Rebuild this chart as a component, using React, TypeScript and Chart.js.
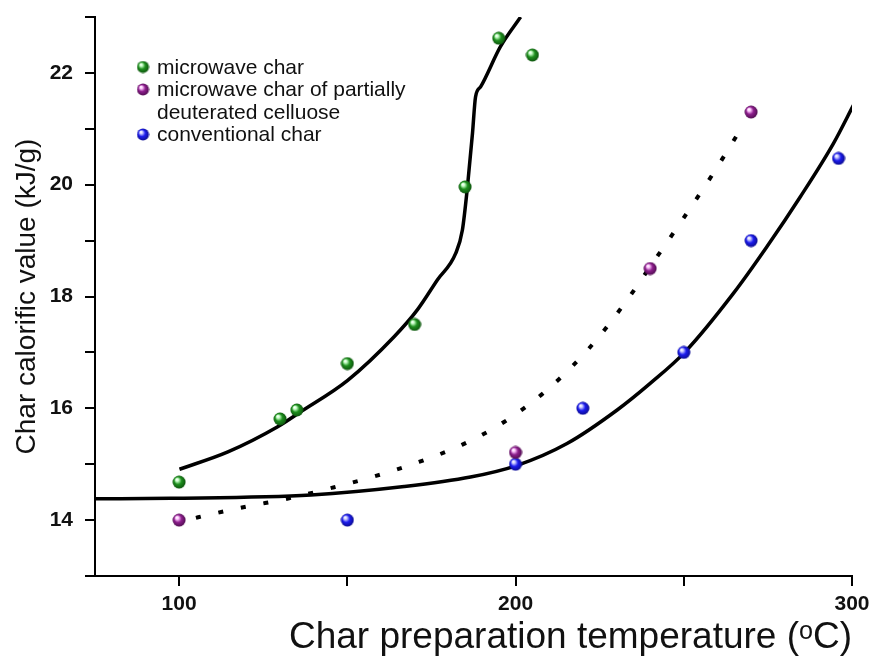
import { useEffect, useRef } from 'react';
import { Chart, registerables } from 'chart.js';

Chart.register(...registerables);

// Measured points
const microwaveX = [100, 130, 135, 150, 170, 185, 195, 205];
const microwaveY = [14.68, 15.81, 15.97, 16.8, 17.5, 19.96, 22.62, 22.32];
const deuteratedX = [100, 200, 240, 270];
const deuteratedY = [14.0, 15.21, 18.5, 21.3];
const conventionalX = [150, 200, 220, 250, 270, 296];
const conventionalY = [14.0, 15.0, 16.0, 17.0, 19.0, 20.47];

// Fitted curves
const microwaveFitX = [100.1, 114.5, 129.3, 136.2, 150.1, 163.9, 170.8, 176.8, 182.2, 184.2, 185.7, 187.2, 188.1, 189.6, 195.5, 201.5];
const microwaveFitY = [14.91, 15.22, 15.67, 15.94, 16.5, 17.28, 17.76, 18.3, 18.77, 19.19, 19.96, 20.92, 21.57, 21.75, 22.47, 23.0];
const deuteratedFitX = [105, 107.0, 119.9, 132.7, 145.6, 158.5, 171.3, 184.2, 196.7, 209.4, 221.8, 232.1, 241.0, 249.9, 258.4, 267.5];
const deuteratedFitY = [14.04, 14.07, 14.24, 14.39, 14.58, 14.79, 15.04, 15.35, 15.76, 16.33, 17.07, 17.85, 18.62, 19.4, 20.17, 21.05];
const conventionalFitX = [75, 97.6, 139.2, 166.9, 186.6, 200.5, 215.3, 230.2, 240.1, 250.4, 264.8, 274.7, 284.6, 294.5, 300.4];
const conventionalFitY = [14.38, 14.39, 14.45, 14.6, 14.77, 14.98, 15.37, 15.97, 16.45, 17.01, 18.06, 18.89, 19.78, 20.74, 21.42];

const xTicks = [100, 150, 200, 250, 300];
const xLabeled = [100, 200, 300];
const yTicks = [13, 14, 15, 16, 17, 18, 19, 20, 21, 22, 23];
const yLabeled = [14, 16, 18, 20, 22];

const legendLabels = [
  ['microwave char'],
  ['microwave char of partially', 'deuterated celluose'],
  ['conventional char'],
];

const xTitle = 'Char preparation temperature (\u1D52C)';
const yTitle = 'Char calorific value (kJ/g)';

const seriesColors = [
  { light: '#c8ffc8', base: '#1e901e', dark: '#0b4d0b' },
  { light: '#ffc8ff', base: '#8e1f8e', dark: '#4a0b4a' },
  { light: '#d0d0ff', base: '#1c1cef', dark: '#0a0a85' },
];

function makeSphere(c: { light: string; base: string; dark: string }, size: number) {
  const cv = document.createElement('canvas');
  cv.width = size;
  cv.height = size;
  const ctx = cv.getContext('2d')!;
  const r = size / 2;
  const g = ctx.createRadialGradient(r - r * 0.35, r - r * 0.4, r * 0.05, r, r, r);
  g.addColorStop(0, '#ffffff');
  g.addColorStop(0.18, c.light);
  g.addColorStop(0.5, c.base);
  g.addColorStop(1, c.dark);
  ctx.fillStyle = g;
  ctx.beginPath();
  ctx.arc(r, r, r - 0.5, 0, Math.PI * 2);
  ctx.fill();
  return cv;
}

const pairs = (xs: number[], ys: number[]) => xs.map((x, i) => ({ x, y: ys[i] }));

export default function App() {
  const ref = useRef<HTMLCanvasElement | null>(null);

  useEffect(() => {
    document.body.style.margin = '0';
    const spheres = seriesColors.map((c) => makeSphere(c, 14));
    const legendSpheres = seriesColors.map((c) => makeSphere(c, 13));

    const legendPlugin = {
      id: 'sphereLegend',
      afterDatasetsDraw(chart: any) {
        const { ctx, chartArea } = chart;
        const mx = chartArea.left + 48;
        const tx = chartArea.left + 62;
        let y = chartArea.top + 50;
        ctx.save();
        ctx.font = '21px "Liberation Sans", Arial, sans-serif';
        ctx.fillStyle = '#111';
        ctx.textBaseline = 'middle';
        ctx.textAlign = 'left';
        legendLabels.forEach((lines, i) => {
          const s = legendSpheres[i];
          ctx.drawImage(s, mx - s.width / 2, y - s.height / 2);
          lines.forEach((ln) => {
            ctx.fillText(ln, tx, y + 1);
            y += 22.5;
          });
        });
        ctx.restore();
      },
    };

    const chart = new Chart(ref.current!, {
      type: 'scatter',
      data: {
        datasets: [
          { label: legendLabels[0].join(' '), data: pairs(microwaveX, microwaveY), pointStyle: spheres[0] as any, pointRadius: 7, showLine: false },
          { label: legendLabels[1].join(' '), data: pairs(deuteratedX, deuteratedY), pointStyle: spheres[1] as any, pointRadius: 7, showLine: false },
          { label: legendLabels[2].join(' '), data: pairs(conventionalX, conventionalY), pointStyle: spheres[2] as any, pointRadius: 7, showLine: false },
          { label: 'fit1', data: pairs(microwaveFitX, microwaveFitY), showLine: true, pointRadius: 0, borderColor: '#000', borderWidth: 3.5, cubicInterpolationMode: 'monotone' },
          { label: 'fit2', data: pairs(deuteratedFitX, deuteratedFitY), showLine: true, pointRadius: 0, borderColor: '#000', borderWidth: 4, borderDash: [5, 18], cubicInterpolationMode: 'monotone' },
          { label: 'fit3', data: pairs(conventionalFitX, conventionalFitY), showLine: true, pointRadius: 0, borderColor: '#000', borderWidth: 3.5, cubicInterpolationMode: 'monotone' },
        ] as any,
      },
      options: {
        animation: false,
        responsive: false,
        maintainAspectRatio: false,
        layout: { padding: { top: 17, right: 17, left: 0, bottom: 0 } },
        plugins: { legend: { display: false }, tooltip: { enabled: false } },
        scales: {
          x: {
            type: 'linear',
            min: 75,
            max: 300,
            afterFit: (s: any) => { s.height = 80; s.paddingLeft = 0; s.paddingRight = 0; },
            afterBuildTicks: (s: any) => { s.ticks = xTicks.map((v) => ({ value: v })); },
            border: { display: true, color: '#000', width: 2 },
            grid: { drawOnChartArea: false, drawTicks: true, tickLength: 10, color: '#000', lineWidth: 2 },
            ticks: {
              color: '#111',
              padding: 6,
              maxRotation: 0,
              autoSkip: false,
              font: { family: '"Liberation Sans", Arial, sans-serif', size: 21, weight: 'bold' },
              callback: (v: any) => (xLabeled.includes(Number(v)) ? String(v) : ''),
            },
            title: {
              display: true,
              text: xTitle,
              align: 'end',
              color: '#111',
              padding: { top: 0, bottom: -4 },
              font: { family: '"Liberation Sans", Arial, sans-serif', size: 37, weight: 'normal' },
            },
          },
          y: {
            type: 'linear',
            min: 13,
            max: 23,
            afterFit: (s: any) => { s.width = 95; s.paddingTop = 0; s.paddingBottom = 0; },
            afterBuildTicks: (s: any) => { s.ticks = yTicks.map((v) => ({ value: v })); },
            border: { display: true, color: '#000', width: 2 },
            grid: { drawOnChartArea: false, drawTicks: true, tickLength: 10, color: '#000', lineWidth: 2 },
            ticks: {
              color: '#111',
              padding: 12,
              autoSkip: false,
              font: { family: '"Liberation Sans", Arial, sans-serif', size: 21, weight: 'bold' },
              callback: (v: any) => (yLabeled.includes(Number(v)) ? String(v) : ''),
            },
            title: {
              display: true,
              text: yTitle,
              color: '#111',
              padding: { top: 10, bottom: 0 },
              font: { family: '"Liberation Sans", Arial, sans-serif', size: 28, weight: 'normal' },
            },
          },
        },
      } as any,
      plugins: [legendPlugin],
    });
    return () => chart.destroy();
  }, []);

  return (
    <div style={{ width: 869, height: 656, background: '#fff' }}>
      <canvas ref={ref} width={869} height={656} style={{ display: 'block', width: 869, height: 656 }} />
    </div>
  );
}
